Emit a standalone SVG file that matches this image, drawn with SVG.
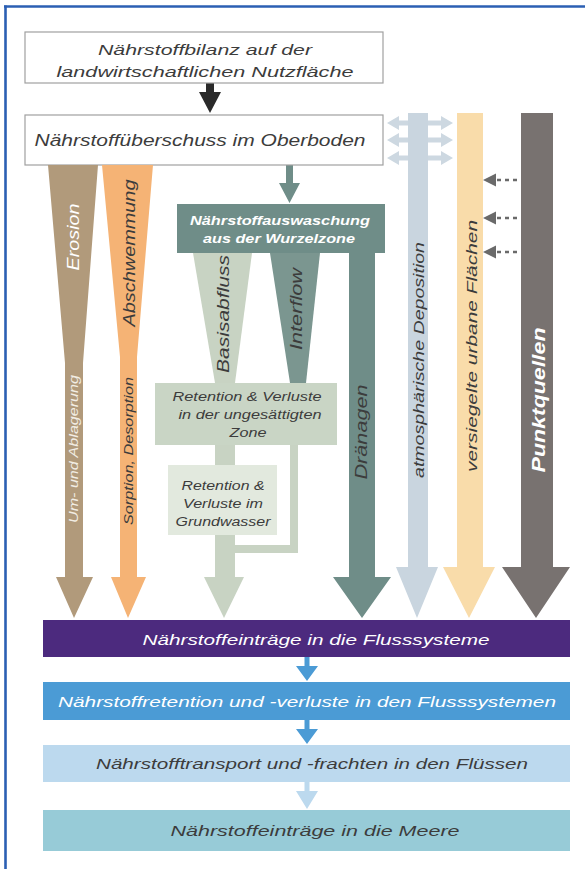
<svg xmlns="http://www.w3.org/2000/svg" width="585" height="869" viewBox="0 0 585 869">
<style>
text{font-family:"Liberation Sans",Arial,sans-serif;font-style:italic}
.h{text-anchor:middle}
.v{text-anchor:middle;dominant-baseline:central}
.dk{fill:#3c3c3c}
.wt{fill:#ffffff}
.box{fill:#ffffff;stroke:#a0a0a0;stroke-width:1.2}
</style>
<rect x="0" y="0" width="585" height="869" fill="#ffffff"/>
<g id="frame" stroke="#2b5fb3" stroke-width="2.6" fill="none">
<line x1="4" y1="6.5" x2="585" y2="6.5"/>
<line x1="5.5" y1="5.5" x2="5.5" y2="869"/>
</g>

<g id="connectors">
<polygon fill="#2a2a2a" points="206,83 214,83 214,92 221,92 210,113 199,92 206,92"/>
<polygon fill="#6f8d88" points="286,165 293,165 293,183 300,183 289.5,203 279,183 286,183"/>
<g fill="#cdd8e1">
<polygon points="387,123 399,116 399,120.5 441,120.5 441,116 453,123 441,130 441,125.5 399,125.5 399,130"/>
<polygon points="387,140 399,133 399,137.5 441,137.5 441,133 453,140 441,147 441,142.5 399,142.5 399,147"/>
<polygon points="387,158 399,151 399,155.5 441,155.5 441,151 453,158 441,165 441,160.5 399,160.5 399,165"/>
</g>
<g fill="#6a6a6a" stroke="none">
<polygon points="483,180 496,173.5 496,186.5"/>
<polygon points="483,218 496,211.5 496,224.5"/>
<polygon points="483,252 496,245.5 496,258.5"/>
</g>
<g stroke="#6a6a6a" stroke-width="2.5" stroke-dasharray="4 4">
<line x1="497" y1="180" x2="521" y2="180"/>
<line x1="497" y1="218" x2="521" y2="218"/>
<line x1="497" y1="252" x2="521" y2="252"/>
</g>
<polygon fill="#4b9bd5" points="304.5,657 309.5,657 309.5,666 318,666 307,681 296,666 304.5,666"/>
<polygon fill="#4b9bd5" points="304.5,720 309.5,720 309.5,729 318,729 307,744 296,729 304.5,729"/>
<polygon fill="#bcd9ee" points="304.5,782 309.5,782 309.5,791 318,791 307,809 296,791 304.5,791"/>
</g>

<g id="box-bilanz">
<rect class="box" x="25" y="32" width="358" height="51"/>
<text class="h dk" x="205" y="55" font-size="15" textLength="214" lengthAdjust="spacingAndGlyphs">Nährstoffbilanz auf der</text>
<text class="h dk" x="205" y="77" font-size="15" textLength="297" lengthAdjust="spacingAndGlyphs">landwirtschaftlichen Nutzfläche</text>
</g>
<g id="box-ueberschuss">
<rect class="box" x="25" y="115" width="358" height="50"/>
<text class="h dk" x="200" y="146" font-size="16" textLength="331" lengthAdjust="spacingAndGlyphs">Nährstoffüberschuss im Oberboden</text>
</g>

<g id="flow-erosion">
<polygon fill="#b19a7b" points="48,165 98,165 83,363 83,577 93,577 74,618 56,577 65,577 65,363"/>
<text class="v wt" transform="translate(73,237) rotate(-90)" font-size="17" textLength="67" lengthAdjust="spacingAndGlyphs">Erosion</text>
<text class="v" fill="#f2ede4" transform="translate(74,449) rotate(-90)" font-size="12" textLength="148" lengthAdjust="spacingAndGlyphs">Um- und Ablagerung</text>
</g>
<g id="flow-abschwemmung">
<polygon fill="#f5b375" points="102,165 153,165 137,357 137,577 146,577 128,618 111,577 120,577 120,357"/>
<text class="v dk" transform="translate(129,253) rotate(-90)" font-size="17" textLength="147" lengthAdjust="spacingAndGlyphs">Abschwemmung</text>
<text class="v dk" transform="translate(129,451) rotate(-90)" font-size="12" textLength="148" lengthAdjust="spacingAndGlyphs">Sorption, Desorption</text>
</g>

<g id="flow-basisabfluss">
<polygon fill="#c8d3c3" points="193,253 252,253 235,383 215,383"/>
<rect fill="#c8d3c3" x="215" y="445" width="20" height="21"/>
<polygon fill="#c8d3c3" points="215,535 235,535 235,577 244,577 224,618 204,577 215,577"/>
<rect fill="#c8d3c3" x="290" y="445" width="8" height="108"/>
<rect fill="#c8d3c3" x="235" y="545" width="63" height="8"/>
<text class="v dk" transform="translate(223,314) rotate(-90)" font-size="17" textLength="118" lengthAdjust="spacingAndGlyphs">Basisabfluss</text>
</g>
<g id="flow-interflow">
<polygon fill="#7b9690" points="270,253 320,253 306,383 290,383"/>
<text class="v dk" transform="translate(296,309) rotate(-90)" font-size="17" textLength="82" lengthAdjust="spacingAndGlyphs">Interflow</text>
</g>
<g id="flow-draenagen">
<polygon fill="#6f8d88" points="349,250 375,250 375,577 391,577 362,618 333,577 349,577"/>
<text class="v dk" transform="translate(361,432) rotate(-90)" font-size="16" textLength="95" lengthAdjust="spacingAndGlyphs">Dränagen</text>
</g>
<g id="box-auswaschung">
<rect fill="#6f8d88" x="177" y="204" width="208" height="49"/>
<text class="h wt" x="280" y="225" font-size="13" font-weight="bold" textLength="180" lengthAdjust="spacingAndGlyphs">Nährstoffauswaschung</text>
<text class="h wt" x="279" y="243" font-size="13" font-weight="bold" textLength="152" lengthAdjust="spacingAndGlyphs">aus der Wurzelzone</text>
</g>
<g id="box-retention-zone">
<rect fill="#c9d5c5" x="155" y="383" width="182" height="62"/>
<text class="h dk" x="247" y="401" font-size="12" textLength="149" lengthAdjust="spacingAndGlyphs">Retention &amp; Verluste</text>
<text class="h dk" x="250" y="419" font-size="12" textLength="143" lengthAdjust="spacingAndGlyphs">in der ungesättigten</text>
<text class="h dk" x="248" y="437" font-size="12" textLength="37" lengthAdjust="spacingAndGlyphs">Zone</text>
</g>
<g id="box-retention-grundwasser">
<rect fill="#e2e9de" x="168" y="465" width="109" height="70"/>
<text class="h dk" x="223" y="490" font-size="12" textLength="83" lengthAdjust="spacingAndGlyphs">Retention &amp;</text>
<text class="h dk" x="223" y="508" font-size="12" textLength="80" lengthAdjust="spacingAndGlyphs">Verluste im</text>
<text class="h dk" x="223" y="526" font-size="12" textLength="95" lengthAdjust="spacingAndGlyphs">Grundwasser</text>
</g>

<g id="flow-deposition">
<polygon fill="#c9d5df" points="408,113 428,113 428,567 438,567 417,618 396,567 408,567"/>
<text class="v dk" transform="translate(418,360) rotate(-90)" font-size="15" textLength="236" lengthAdjust="spacingAndGlyphs">atmosphärische Deposition</text>
</g>
<g id="flow-urban">
<polygon fill="#f9dcaa" points="457,113 483,113 483,567 495,567 469,618 443,567 457,567"/>
<text class="v dk" transform="translate(471,346) rotate(-90)" font-size="15" textLength="252" lengthAdjust="spacingAndGlyphs">versiegelte urbane Flächen</text>
</g>
<g id="flow-punktquellen">
<polygon fill="#787270" points="521,113 553,113 553,567 570,567 536,618 502,567 521,567"/>
<text class="v wt" transform="translate(538,400) rotate(-90)" font-size="19" font-weight="bold" textLength="145" lengthAdjust="spacingAndGlyphs">Punktquellen</text>
</g>

<g id="box-eintraege-fluss">
<rect fill="#4c2a7e" x="43" y="620" width="527" height="37"/>
<text class="h wt" x="316" y="645" font-size="15" textLength="347" lengthAdjust="spacingAndGlyphs">Nährstoffeinträge in die Flusssysteme</text>
</g>
<g id="box-retention-fluss">
<rect fill="#4b9bd5" x="43" y="682" width="527" height="38"/>
<text class="h wt" x="307" y="707" font-size="15" textLength="498" lengthAdjust="spacingAndGlyphs">Nährstoffretention und -verluste in den Flusssystemen</text>
</g>
<g id="box-transport">
<rect fill="#bcd9ee" x="43" y="745" width="527" height="37"/>
<text class="h dk" x="312" y="769" font-size="15" textLength="432" lengthAdjust="spacingAndGlyphs">Nährstofftransport und -frachten in den Flüssen</text>
</g>
<g id="box-meere">
<rect fill="#97cbd7" x="43" y="810" width="527" height="41"/>
<text class="h dk" x="315" y="836" font-size="15" textLength="289" lengthAdjust="spacingAndGlyphs">Nährstoffeinträge in die Meere</text>
</g>
</svg>
